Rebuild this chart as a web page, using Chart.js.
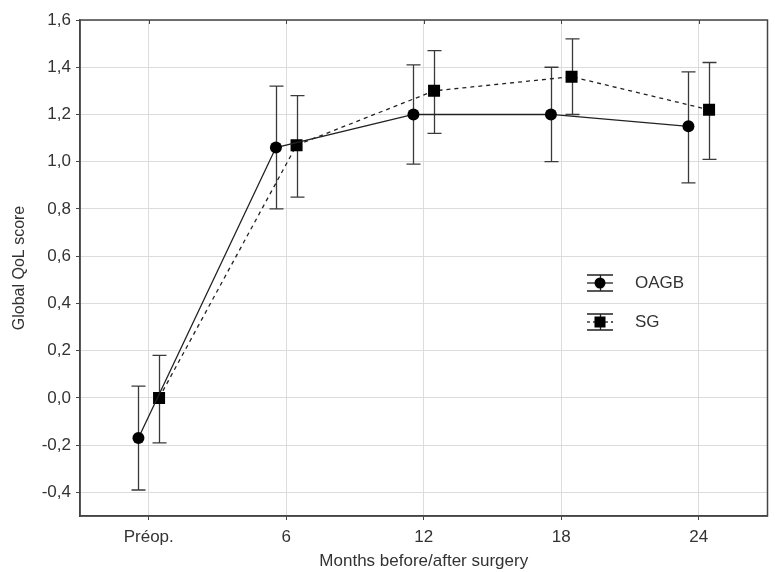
<!DOCTYPE html>
<html>
<head>
<meta charset="utf-8">
<script src="https://cdn.jsdelivr.net/npm/chart.js@4.4.1/dist/chart.umd.min.js"></script>
<style>
html,body{margin:0;padding:0;background:#fff;}
#wrap{width:776px;height:572px;}
</style>
</head>
<body>
<div id="wrap"><canvas id="c" width="776" height="572"></canvas></div>
<script>
const categories = ['Préop.', '6', '12', '18', '24'];
const months = [0, 6, 12, 18, 24];
const yTicks = [-0.4, -0.2, 0.0, 0.2, 0.4, 0.6, 0.8, 1.0, 1.2, 1.4, 1.6];

const oagbMean = [-0.17, 1.06, 1.20, 1.20, 1.15];
const oagbLow  = [-0.39, 0.80, 0.99, 1.00, 0.91];
const oagbHigh = [0.05, 1.32, 1.41, 1.40, 1.38];

const sgMean = [0.00, 1.07, 1.30, 1.36, 1.22];
const sgLow  = [-0.19, 0.85, 1.12, 1.20, 1.01];
const sgHigh = [0.18, 1.28, 1.47, 1.52, 1.42];

const seriesNames = ['OAGB', 'SG'];

const OFFSET = 0.45;
const FONT = '"Liberation Sans", Arial, sans-serif';
const TXT = '#333';

function build(mean, lo, hi, off) {
  return months.map((m, i) => ({ x: m + off, y: mean[i], lo: lo[i], hi: hi[i] }));
}

const errorBars = {
  id: 'errorBars',
  beforeDatasetsDraw(chart) {
    const { ctx, scales: { x, y } } = chart;
    ctx.save();
    ctx.strokeStyle = '#3a3a3a';
    ctx.lineWidth = 1.3;
    chart.data.datasets.forEach(ds => {
      ds.data.forEach(p => {
        const px = Math.round(x.getPixelForValue(p.x)) + 0.5;
        const pl = y.getPixelForValue(p.lo);
        const ph = y.getPixelForValue(p.hi);
        ctx.beginPath();
        ctx.moveTo(px, pl); ctx.lineTo(px, ph);
        ctx.moveTo(px - 7, pl); ctx.lineTo(px + 7, pl);
        ctx.moveTo(px - 7, ph); ctx.lineTo(px + 7, ph);
        ctx.stroke();
      });
    });
    ctx.restore();
  }
};

const frame = {
  id: 'frame',
  afterDraw(chart) {
    const { ctx, chartArea: a, scales: { x } } = chart;
    ctx.save();
    ctx.strokeStyle = '#444';
    ctx.lineWidth = 1.5;
    ctx.strokeRect(a.left, a.top, a.right - a.left, a.bottom - a.top);
    ctx.lineWidth = 1;
    months.forEach(m => {
      const px = Math.round(x.getPixelForValue(m)) + 0.5;
      ctx.beginPath();
      ctx.moveTo(px, a.top); ctx.lineTo(px, a.top + 4);
      ctx.stroke();
    });
    // legend
    const items = [
      { name: seriesNames[0], style: 'circle', dash: [], cy: 283 },
      { name: seriesNames[1], style: 'rect', dash: [3, 3], cy: 322 }
    ];
    items.forEach(it => {
      const x0 = 587, x1 = 613, cx = 600;
      ctx.strokeStyle = '#222';
      ctx.lineWidth = 1.3;
      ctx.setLineDash([]);
      ctx.beginPath();
      ctx.moveTo(x0, it.cy - 8); ctx.lineTo(x1, it.cy - 8);
      ctx.moveTo(x0, it.cy + 8); ctx.lineTo(x1, it.cy + 8);
      ctx.moveTo(cx + 0.5, it.cy - 8); ctx.lineTo(cx + 0.5, it.cy + 8);
      ctx.stroke();
      ctx.setLineDash(it.dash);
      ctx.beginPath();
      ctx.moveTo(x0, it.cy); ctx.lineTo(x1, it.cy);
      ctx.stroke();
      ctx.setLineDash([]);
      ctx.fillStyle = '#000';
      if (it.style === 'circle') {
        ctx.beginPath(); ctx.arc(cx, it.cy, 5.5, 0, Math.PI * 2); ctx.fill();
      } else {
        ctx.fillRect(cx - 5.5, it.cy - 5.5, 11, 11);
      }
      ctx.fillStyle = TXT;
      ctx.font = '17px ' + FONT;
      ctx.textBaseline = 'middle';
      ctx.textAlign = 'left';
      ctx.fillText(it.name, 635, it.cy);
    });
    ctx.restore();
  }
};

new Chart(document.getElementById('c'), {
  type: 'scatter',
  data: {
    datasets: [
      {
        label: seriesNames[0],
        data: build(oagbMean, oagbLow, oagbHigh, -OFFSET),
        showLine: true,
        borderColor: '#222',
        borderWidth: 1.3,
        backgroundColor: '#000',
        pointStyle: 'circle',
        pointRadius: 6,
        pointBorderWidth: 0,
        pointBackgroundColor: '#000',
        tension: 0
      },
      {
        label: seriesNames[1],
        data: build(sgMean, sgLow, sgHigh, OFFSET),
        showLine: true,
        borderColor: '#222',
        borderWidth: 1.3,
        borderDash: [4, 4],
        backgroundColor: '#000',
        pointStyle: 'rect',
        pointRadius: 8.5,
        pointBorderWidth: 0,
        pointBackgroundColor: '#000',
        tension: 0
      }
    ]
  },
  options: {
    responsive: false,
    animation: false,
    devicePixelRatio: 1,
    layout: { padding: { top: 20, right: 8, left: 0, bottom: 0 } },
    plugins: { legend: { display: false }, tooltip: { enabled: false } },
    scales: {
      x: {
        type: 'linear',
        min: -3, max: 27,
        afterFit(s) { s.height = 56; },
        afterBuildTicks(s) { s.ticks = months.map(v => ({ value: v })); },
        ticks: {
          font: { family: FONT, size: 17 },
          color: TXT,
          padding: 7,
          maxRotation: 0,
          callback(v) { const i = months.indexOf(v); return i >= 0 ? categories[i] : ''; }
        },
        grid: { color: '#dcdcdc', lineWidth: 1, tickLength: 4, tickColor: '#444' },
        border: { display: true, color: '#444', width: 1.5 },
        title: {
          display: true,
          text: 'Months before/after surgery',
          font: { family: FONT, size: 17 },
          color: TXT,
          padding: { top: 0, bottom: 0 }
        }
      },
      y: {
        type: 'linear',
        min: -0.5, max: 1.6,
        afterFit(s) { s.width = 80; },
        afterBuildTicks(s) { s.ticks = yTicks.map(v => ({ value: v })); },
        ticks: {
          font: { family: FONT, size: 17 },
          color: TXT,
          padding: 5,
          callback(v) { return v.toFixed(1).replace('.', ','); }
        },
        grid: { color: '#dcdcdc', lineWidth: 1, tickLength: 4, tickColor: '#444' },
        border: { display: true, color: '#444', width: 1.5 },
        title: {
          display: true,
          text: 'Global QoL score',
          font: { family: FONT, size: 16 },
          color: TXT,
          padding: { top: 10, bottom: 0 }
        }
      }
    }
  },
  plugins: [errorBars, frame]
});
</script>
</body>
</html>
